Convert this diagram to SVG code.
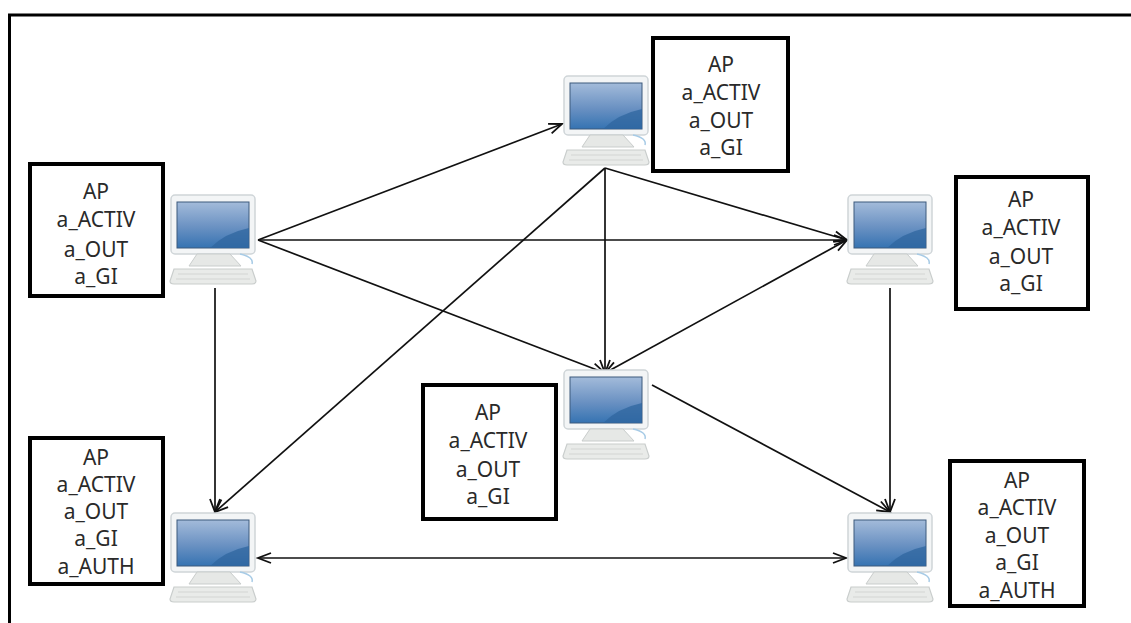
<svg xmlns="http://www.w3.org/2000/svg" width="1131" height="623" viewBox="0 0 1131 623">
<style>
.box{fill:#fff;stroke:#000;stroke-width:4}
.lbl{font-family:"Noto Sans","Open Sans",sans-serif;font-size:21px;fill:#2a2a2a;text-anchor:middle}
.edge{fill:none;stroke:#111;stroke-width:1.7}
</style>
<defs>
<marker id="arr" markerUnits="userSpaceOnUse" markerWidth="18" markerHeight="16" refX="15" refY="8" orient="auto-start-reverse">
<path d="M2 3 L15 8 L2 13" fill="none" stroke="#111" stroke-width="1.8"/>
</marker>
<linearGradient id="scr" x1="0" y1="0" x2="0" y2="1">
<stop offset="0" stop-color="#a3bbda"/><stop offset="0.55" stop-color="#6a91c2"/><stop offset="1" stop-color="#3573b2"/>
</linearGradient>
<g id="pc">
<rect x="1" y="0" width="84" height="59" rx="4" fill="#f3f5f6" stroke="#cfd5d8" stroke-width="1.5"/>
<rect x="7" y="7" width="72" height="46" fill="url(#scr)" stroke="#3d5a7d" stroke-width="1"/>
<path d="M40 53 Q55 38 79 33 V53 Z" fill="#2f659f" opacity="0.75"/>
<path d="M27 59 H60 L71 71 H19 Z" fill="#e6e8e6" stroke="#c9cdcc" stroke-width="1"/>
<path d="M70 59 Q84 62 82 69" fill="none" stroke="#a7cbe6" stroke-width="1.5"/>
<path d="M4 74 H82 L86 86 Q86 89 82 89 H4 Q0 89 0 86 Z" fill="#e9ebe9" stroke="#c9cdcc" stroke-width="1.2"/>
<path d="M8 79 H78 M6 84 H80" stroke="#d3d6d4" stroke-width="1.2"/>
</g>
</defs>
<rect width="1131" height="623" fill="#fff"/>
<path d="M9.5 623 V15 H1131" fill="none" stroke="#000" stroke-width="3"/>
<g id="connectors" class="edge">
<line x1="258" y1="240" x2="562" y2="124" marker-end="url(#arr)"/>
<line x1="258" y1="240" x2="847" y2="240" marker-end="url(#arr)"/>
<line x1="258" y1="240" x2="605" y2="373" marker-end="url(#arr)"/>
<line x1="215" y1="288" x2="215" y2="512" marker-end="url(#arr)"/>
<line x1="605" y1="168" x2="215" y2="512" marker-end="url(#arr)"/>
<line x1="605" y1="168" x2="847" y2="240" marker-end="url(#arr)"/>
<line x1="605" y1="168" x2="605" y2="373" marker-end="url(#arr)"/>
<line x1="847" y1="240" x2="605" y2="373" marker-start="url(#arr)" marker-end="url(#arr)"/>
<line x1="890" y1="288" x2="890" y2="512" marker-end="url(#arr)"/>
<line x1="652" y1="385" x2="890" y2="512" marker-end="url(#arr)"/>
<line x1="258" y1="558" x2="846" y2="558" marker-start="url(#arr)" marker-end="url(#arr)"/>
</g>
<g id="node-left">
<use href="#pc" x="170" y="195"/>
<rect class="box" x="30" y="164" width="133" height="132"/>
<text class="lbl" x="96" y="199">AP</text><text class="lbl" x="96" y="227">a_ACTIV</text><text class="lbl" x="96" y="257">a_OUT</text><text class="lbl" x="96" y="284">a_GI</text>
</g>
<g id="node-top">
<use href="#pc" x="563" y="76"/>
<rect class="box" x="653" y="38" width="135" height="133"/>
<text class="lbl" x="721" y="72">AP</text><text class="lbl" x="721" y="100">a_ACTIV</text><text class="lbl" x="721" y="128">a_OUT</text><text class="lbl" x="721" y="155">a_GI</text>
</g>
<g id="node-right">
<use href="#pc" x="847" y="195"/>
<rect class="box" x="956" y="177" width="132" height="132"/>
<text class="lbl" x="1021" y="207">AP</text><text class="lbl" x="1021" y="235">a_ACTIV</text><text class="lbl" x="1021" y="264">a_OUT</text><text class="lbl" x="1021" y="291">a_GI</text>
</g>
<g id="node-center">
<use href="#pc" x="563" y="370"/>
<rect class="box" x="423" y="385" width="133" height="134"/>
<text class="lbl" x="488" y="420">AP</text><text class="lbl" x="488" y="448">a_ACTIV</text><text class="lbl" x="488" y="477">a_OUT</text><text class="lbl" x="488" y="504">a_GI</text>
</g>
<g id="node-bottom-left">
<use href="#pc" x="170" y="513"/>
<rect class="box" x="30" y="438" width="133" height="146"/>
<text class="lbl" x="96" y="465">AP</text><text class="lbl" x="96" y="492">a_ACTIV</text><text class="lbl" x="96" y="519">a_OUT</text><text class="lbl" x="96" y="546">a_GI</text><text class="lbl" x="96" y="574">a_AUTH</text>
</g>
<g id="node-bottom-right">
<use href="#pc" x="847" y="513"/>
<rect class="box" x="950" y="461" width="134" height="145"/>
<text class="lbl" x="1017" y="488">AP</text><text class="lbl" x="1017" y="515">a_ACTIV</text><text class="lbl" x="1017" y="543">a_OUT</text><text class="lbl" x="1017" y="570">a_GI</text><text class="lbl" x="1017" y="598">a_AUTH</text>
</g>
</svg>
